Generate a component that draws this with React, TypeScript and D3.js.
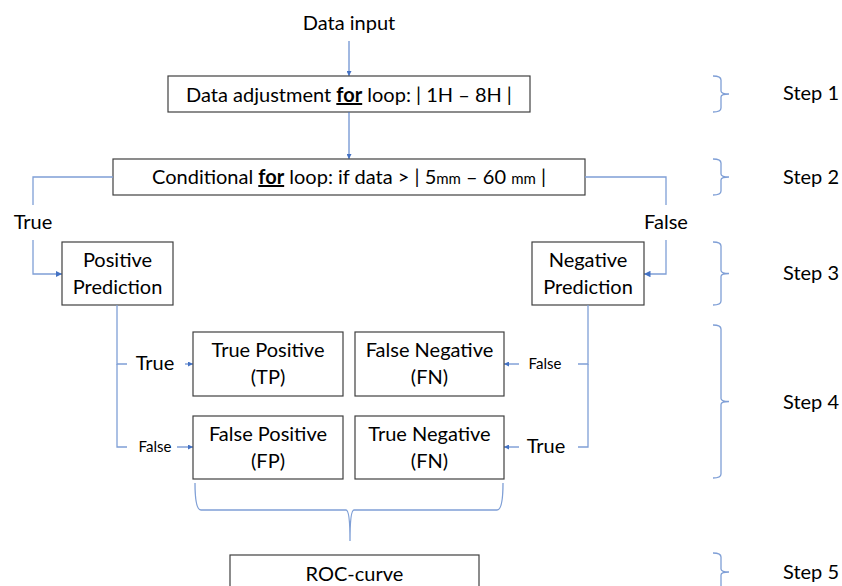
import React from "react";
import * as d3 from "d3";

const W = 842;
const H = 586;

const titleInput = "Data input";
const stepLabels = ["Step 1", "Step 2", "Step 3", "Step 4", "Step 5"];
const predictionLabels = [["Positive", "Prediction"], ["Negative", "Prediction"]];
const matrixLabels = [
  ["True Positive", "(TP)"],
  ["False Negative", "(FN)"],
  ["False Positive", "(FP)"],
  ["True Negative", "(FN)"],
];
const branchLabels = ["True", "False"];
const rocLabel = "ROC-curve";

// layout (pixel geometry)
const L = {
  box1: { x: 168, y: 76, w: 362, h: 36 },
  box2: { x: 113, y: 159, w: 472, h: 36 },
  pos: { x: 62, y: 242, w: 111, h: 63 },
  neg: { x: 532, y: 242, w: 112, h: 63 },
  cells: [
    { x: 193, y: 332, w: 150, h: 64 },
    { x: 355, y: 332, w: 149, h: 64 },
    { x: 193, y: 416, w: 150, h: 63 },
    { x: 355, y: 416, w: 149, h: 63 },
  ],
  roc: { x: 230, y: 555, w: 249, h: 45 },
  steps: [
    { top: 76, bot: 112, text: 100 },
    { top: 159, bot: 195, text: 184 },
    { top: 242, bot: 305, text: 280 },
    { top: 325, bot: 478, text: 409 },
    { top: 553, bot: 600, mid: 572, text: 579 },
  ],
};

const FONT = "Lato, 'Open Sans', sans-serif";
const FS = 20;
const FSS = 15;
const BLUE = "#4472C4";
const LBLUE = "#7F9FD6";
const BORDER = "#404040";

function Arrow({ x1, y1, x2, y2 }: { x1: number; y1: number; x2: number; y2: number }) {
  const path = d3.path();
  path.moveTo(x1, y1);
  path.lineTo(x2, y2);
  return <path d={path.toString()} stroke={BLUE} strokeWidth={1} fill="none" markerEnd="url(#arr)" />;
}

function Poly({ pts, arrow }: { pts: [number, number][]; arrow?: boolean }) {
  const line = d3.line();
  return (
    <path
      d={line(pts) || ""}
      stroke={LBLUE}
      strokeWidth={1.3}
      fill="none"
      markerEnd={arrow ? "url(#arr)" : undefined}
    />
  );
}

function stepBrace(top: number, bot: number, mid?: number) {
  const m = mid ?? (top + bot) / 2;
  const x0 = 713, x1 = 721, x2 = 729;
  const p = d3.path();
  p.moveTo(x0, top);
  p.quadraticCurveTo(x1, top, x1, top + 4);
  p.lineTo(x1, m - 3);
  p.quadraticCurveTo(x1, m, x2, m);
  p.moveTo(x2, m);
  p.quadraticCurveTo(x1, m, x1, m + 3);
  p.lineTo(x1, bot - 4);
  p.quadraticCurveTo(x1, bot, x0, bot);
  return p.toString();
}

function bottomBrace() {
  const l = 195, r = 503, t = 483, y = 510, c = 350, tip = 541;
  const p = d3.path();
  p.moveTo(l, t);
  p.quadraticCurveTo(l, y, l + 6, y);
  p.lineTo(c - 4, y);
  p.quadraticCurveTo(c, y, c, tip);
  p.moveTo(c, tip);
  p.quadraticCurveTo(c, y, c + 4, y);
  p.lineTo(r - 6, y);
  p.quadraticCurveTo(r, y, r, t);
  return p.toString();
}

function Box({ b, lines, size = FS }: { b: { x: number; y: number; w: number; h: number }; lines: string[]; size?: number }) {
  const cx = b.x + b.w / 2;
  return (
    <g>
      <rect x={b.x} y={b.y} width={b.w} height={b.h} fill="white" stroke={BORDER} strokeWidth={1.2} />
      {lines.map((t, i) => (
        <text key={i} x={cx} y={b.y + 25 + i * 27} textAnchor="middle" fontSize={size}>
          {t}
        </text>
      ))}
    </g>
  );
}

export default function App() {
  const { box1, box2, pos, neg, cells, roc, steps } = L;
  const cx = 349;
  return (
    <svg
      width={W}
      height={H}
      style={{ position: "absolute", left: 0, top: 0, background: "white" }}
      fontFamily={FONT}
      fill="#000"
    >
      <defs>
        <marker id="arr" viewBox="0 0 10 10" refX="10" refY="5" markerWidth="5" markerHeight="5" orient="auto">
          <path d="M0,0 L10,5 L0,10 z" fill={BLUE} />
        </marker>
      </defs>

      <text x={cx} y={30} textAnchor="middle" fontSize={FS}>{titleInput}</text>
      <Arrow x1={cx} y1={41} x2={cx} y2={box1.y} />

      <rect x={box1.x} y={box1.y} width={box1.w} height={box1.h} fill="white" stroke={BORDER} strokeWidth={1.2} />
      <text x={cx} y={102} textAnchor="middle" fontSize={FS} xmlSpace="preserve">
        <tspan>Data adjustment </tspan>
        <tspan fontWeight="bold" textDecoration="underline">for</tspan>
        <tspan> loop: | 1H – 8H |</tspan>
      </text>

      <Arrow x1={cx} y1={box1.y + box1.h} x2={cx} y2={box2.y} />

      <rect x={box2.x} y={box2.y} width={box2.w} height={box2.h} fill="white" stroke={BORDER} strokeWidth={1.2} />
      <text x={cx} y={184} textAnchor="middle" fontSize={FS} xmlSpace="preserve">
        <tspan>Conditional </tspan>
        <tspan fontWeight="bold" textDecoration="underline">for</tspan>
        <tspan> loop: if data &gt; | 5</tspan>
        <tspan fontSize={FSS}>mm</tspan>
        <tspan> – 60 </tspan>
        <tspan fontSize={FSS}>mm</tspan>
        <tspan> |</tspan>
      </text>

      {/* True branch */}
      <Poly pts={[[box2.x, 177], [33, 177], [33, 205]]} />
      <text x={33} y={229} textAnchor="middle" fontSize={FS}>{branchLabels[0]}</text>
      <Poly pts={[[33, 240], [33, 274], [pos.x, 274]]} arrow />

      {/* False branch */}
      <Poly pts={[[box2.x + box2.w, 177], [666, 177], [666, 205]]} />
      <text x={666} y={229} textAnchor="middle" fontSize={FS}>{branchLabels[1]}</text>
      <Poly pts={[[666, 240], [666, 274], [neg.x + neg.w, 274]]} arrow />

      <Box b={pos} lines={predictionLabels[0]} />
      <Box b={neg} lines={predictionLabels[1]} />

      {/* Positive side */}
      <Poly pts={[[127, 364], [117, 364], [117, pos.y + pos.h]]} />
      <Poly pts={[[117, 364], [117, 447], [127, 447]]} />
      <text x={155} y={370} textAnchor="middle" fontSize={FS}>{branchLabels[0]}</text>
      <Arrow x1={185} y1={364} x2={cells[0].x} y2={364} />
      <text x={155} y={452} textAnchor="middle" fontSize={FSS}>{branchLabels[1]}</text>
      <Arrow x1={177} y1={447} x2={cells[2].x} y2={447} />

      {/* Negative side */}
      <Poly pts={[[578, 364], [588, 364], [588, neg.y + neg.h]]} />
      <Poly pts={[[588, 364], [588, 447], [578, 447]]} />
      <text x={545} y={369} textAnchor="middle" fontSize={FSS}>{branchLabels[1]}</text>
      <Arrow x1={519} y1={364} x2={cells[1].x + cells[1].w} y2={364} />
      <text x={546} y={453} textAnchor="middle" fontSize={FS}>{branchLabels[0]}</text>
      <Arrow x1={519} y1={447} x2={cells[3].x + cells[3].w} y2={447} />

      {cells.map((b, i) => (
        <Box key={i} b={b} lines={matrixLabels[i]} />
      ))}

      <path d={bottomBrace()} stroke={LBLUE} strokeWidth={1.3} fill="none" />

      <rect x={roc.x} y={roc.y} width={roc.w} height={roc.h} fill="white" stroke={BORDER} strokeWidth={1.2} />
      <text x={roc.x + roc.w / 2} y={581} textAnchor="middle" fontSize={FS}>{rocLabel}</text>

      {steps.map((s, i) => (
        <g key={i}>
          <path d={stepBrace(s.top, s.bot, (s as any).mid)} stroke={LBLUE} strokeWidth={1.3} fill="none" />
          <text x={783} y={s.text} fontSize={FS}>{stepLabels[i]}</text>
        </g>
      ))}
    </svg>
  );
}
